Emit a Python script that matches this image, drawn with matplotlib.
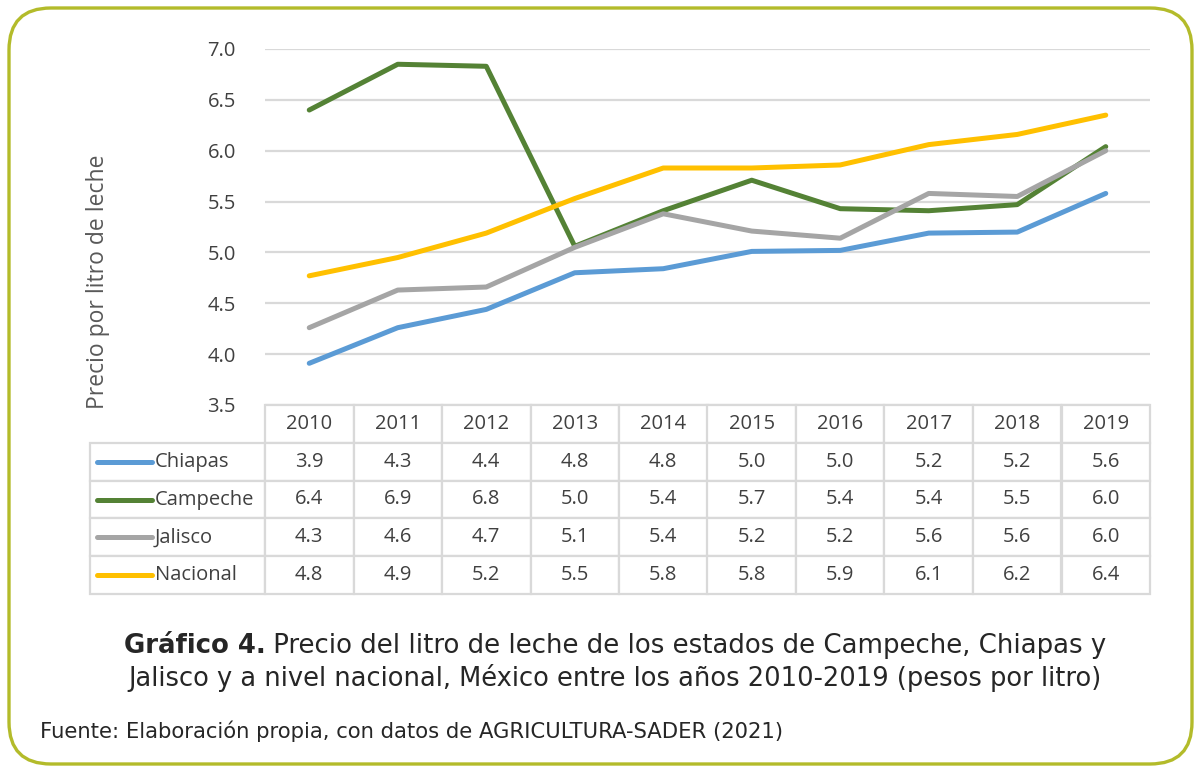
import matplotlib
matplotlib.use("Agg")
import matplotlib.pyplot as plt
from matplotlib.patches import FancyBboxPatch

# Datos
years = ["2010", "2011", "2012", "2013", "2014", "2015", "2016", "2017", "2018", "2019"]
series = ["Chiapas", "Campeche", "Jalisco", "Nacional"]
chiapas = [3.91, 4.26, 4.44, 4.80, 4.84, 5.01, 5.02, 5.19, 5.20, 5.58]
campeche = [6.40, 6.85, 6.83, 5.06, 5.41, 5.71, 5.43, 5.41, 5.47, 6.04]
jalisco = [4.26, 4.63, 4.66, 5.05, 5.38, 5.21, 5.14, 5.58, 5.55, 6.00]
nacional = [4.77, 4.95, 5.19, 5.53, 5.83, 5.83, 5.86, 6.06, 6.16, 6.35]
# valores tal como aparecen en la tabla
tabla = [
    ["3.9", "4.3", "4.4", "4.8", "4.8", "5.0", "5.0", "5.2", "5.2", "5.6"],
    ["6.4", "6.9", "6.8", "5.0", "5.4", "5.7", "5.4", "5.4", "5.5", "6.0"],
    ["4.3", "4.6", "4.7", "5.1", "5.4", "5.2", "5.2", "5.6", "5.6", "6.0"],
    ["4.8", "4.9", "5.2", "5.5", "5.8", "5.8", "5.9", "6.1", "6.2", "6.4"],
]
colors = ["#5B9BD5", "#548235", "#A5A5A5", "#FFC000"]
yticks = [3.5, 4.0, 4.5, 5.0, 5.5, 6.0, 6.5, 7.0]

W, H = 1201, 772
fig = plt.figure(figsize=(W / 100, H / 100), dpi=100)
txt = "#404040"
font = "Open Sans"
fs = 14.5

# marco redondeado
bg = fig.add_axes([0, 0, 1, 1], zorder=-1)
bg.set_xlim(0, W)
bg.set_ylim(H, 0)
bg.axis("off")
bg.add_patch(FancyBboxPatch((9, 8), 1183, 756, boxstyle="round,pad=0,rounding_size=42",
                            fc="white", ec="#B3BB2A", lw=2.4))

# grafico
x0, x1, ytop, ybot = 265, 1150, 49, 405
ax = fig.add_axes([x0 / W, 1 - ybot / H, (x1 - x0) / W, (ybot - ytop) / H])
xs = list(range(len(years)))
for vals, c in zip([chiapas, campeche, jalisco, nacional], colors):
    ax.plot(xs, vals, color=c, lw=3.6, solid_capstyle="round", solid_joinstyle="round", zorder=3)
ax.set_xlim(-0.5, len(years) - 0.5)
ax.set_ylim(3.5, 7.0)
ax.set_yticks(yticks)
ax.set_yticklabels([f"{v:.1f}" for v in yticks], fontsize=fs, color=txt, family=font)
ax.tick_params(axis="y", length=0, pad=21)
ax.set_xticks([])
for s in ax.spines.values():
    s.set_visible(False)
ax.grid(axis="y", color="#D9D9D9", lw=1.6)
ax.set_axisbelow(True)
ax.set_ylabel("Precio por litro de leche", fontsize=16.5, color="#595959", family=font, labelpad=0)
ax.yaxis.set_label_coords((98 - x0) / (x1 - x0), (ybot - 281.5) / (ybot - ytop))
ax.yaxis.label.set_va("center")

# tabla de datos
hpx = ybot - ytop
lab_w = (x1 - 90) / (x1 - x0) - 1.0
tb = ax.table(cellText=[[""] + r for r in tabla], colLabels=[""] + years,
              cellLoc="center", bbox=[-lab_w, -189 / hpx, 1 + lab_w, 189 / hpx])
tb.auto_set_font_size(False)
for (r, c), cell in tb.get_celld().items():
    cell.set_edgecolor("#D9D9D9")
    cell.set_linewidth(1.6)
    cell.get_text().set_fontsize(fs)
    cell.get_text().set_color(txt)
    cell.get_text().set_family(font)
    cell.set_width(lab_w if c == 0 else 0.1)
    if r == 0 and c == 0:
        cell.visible_edges = ""
tb.set_zorder(4)

# nombres de serie con su clave
for i, (name, c) in enumerate(zip(series, colors)):
    yc = -(189 / 5 * (i + 1.5)) / hpx
    ax.plot([(97 - x0) / (x1 - x0), (152 - x0) / (x1 - x0)], [yc, yc], transform=ax.transAxes,
            color=c, lw=3.6, solid_capstyle="round", clip_on=False, zorder=5)
    ax.text((155 - x0) / (x1 - x0), yc, name, transform=ax.transAxes, ha="left", va="center",
            fontsize=fs, color=txt, family=font, zorder=5)

# titulo del grafico
fig.canvas.draw()
r = fig.canvas.get_renderer()
cap = "DejaVu Sans"
ink = "#262626"


def ancho(t):
    return t.get_window_extent(r).width


b = fig.text(0, 0, "Gráfico 4.", fontsize=10, fontweight="bold", color=ink, family=cap)
n = fig.text(0, 0, " Precio del litro de leche de los estados de Campeche, Chiapas y",
             fontsize=10, color=ink, family=cap)
size = 10 * 984 / (ancho(b) + ancho(n))
b.set_fontsize(size)
n.set_fontsize(size)
wb, wn = ancho(b), ancho(n)
xc = 615
start = xc - (wb + wn) / 2
yl1 = 1 - 646 / H
b.set_position((start / W, yl1))
b.set_va("center")
n.set_position(((start + wb) / W, yl1))
n.set_va("center")
l2 = fig.text(xc / W, 1 - 678 / H, "Jalisco y a nivel nacional, México entre los años 2010-2019 (pesos por litro)",
              fontsize=10, color=ink, family=cap, ha="center", va="center")
l2.set_fontsize(min(size, 10 * 970 / ancho(l2)))
f = fig.text(40 / W, 1 - 731 / H, "Fuente: Elaboración propia, con datos de AGRICULTURA-SADER (2021)",
             fontsize=10, color=ink, family=cap, ha="left", va="center")
f.set_fontsize(10 * 743 / ancho(f))

fig.savefig("out.png", dpi=100)
